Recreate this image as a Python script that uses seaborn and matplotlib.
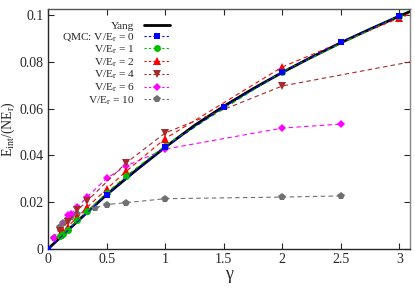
import numpy as np
import pandas as pd
import matplotlib
matplotlib.use("Agg")
import matplotlib.pyplot as plt
import seaborn as sns
from matplotlib.lines import Line2D

# Yang (exact) curve
yang_g = [0, 0.25, 0.5, 0.75, 1.0, 1.25, 1.5, 1.75, 2.0, 2.25, 2.5, 2.75, 3.0, 3.1]
yang_e = [0, 0.0118, 0.0232, 0.0336, 0.0435, 0.0528, 0.0610, 0.0685, 0.0755, 0.0820, 0.0882, 0.0940, 0.0996, 0.1017]

# QMC data, one list pair per V/E_r
g_v0 = [0, 0.5, 1.0, 1.5, 2.0, 2.5, 3.0]
e_v0 = [0, 0.0232, 0.0435, 0.0607, 0.0756, 0.0885, 0.0997]

g_v1 = [0.1, 0.125, 0.1667, 0.25, 0.3333, 0.5, 0.6667, 1.0, 2.0, 3.0]
e_v1 = [0.0055, 0.0065, 0.0082, 0.0122, 0.0162, 0.0240, 0.0312, 0.0442, 0.0758, 0.0998]

g_v2 = [0.1, 0.125, 0.1667, 0.25, 0.3333, 0.5, 0.6667, 1.0, 2.0, 3.0, 4.0]
e_v2 = [0.0060, 0.0075, 0.0095, 0.0135, 0.0178, 0.0256, 0.0332, 0.0472, 0.0778, 0.0988, 0.1160]

g_v4 = [0.1, 0.1667, 0.25, 0.3333, 0.6667, 1.0, 2.0, 4.0]
e_v4 = [0.0075, 0.0115, 0.0165, 0.0205, 0.0368, 0.0496, 0.0697, 0.0885]

g_v6 = [0.05, 0.1667, 0.2, 0.25, 0.3333, 0.5, 0.6667, 1.0, 2.0, 2.5]
e_v6 = [0.0045, 0.0145, 0.0150, 0.0178, 0.0222, 0.0302, 0.0355, 0.0427, 0.0517, 0.0534]

g_v10 = [0.05, 0.1, 0.125, 0.1667, 0.2, 0.25, 0.3333, 0.4, 0.5, 0.6667, 1.0, 2.0, 2.5]
e_v10 = [0.0047, 0.0094, 0.0110, 0.0128, 0.0135, 0.0150, 0.0160, 0.0175, 0.0190, 0.0198, 0.0215, 0.0222, 0.0227]

labels = ["QMC: V/E$_{\\rm r}$ = 0", "V/E$_{\\rm r}$ = 1", "V/E$_{\\rm r}$ = 2",
          "V/E$_{\\rm r}$ = 4", "V/E$_{\\rm r}$ = 6", "V/E$_{\\rm r}$ = 10"]
colors = ["#0000ff", "#00c000", "#ff0000", "#a52a2a", "#ff00ff", "#707070"]
markers = ["s", "o", "^", "v", "D", "p"]
sizes = [5, 5, 5.5, 5.5, 4.5, 5.5]
series = [(g_v0, e_v0), (g_v1, e_v1), (g_v2, e_v2), (g_v4, e_v4), (g_v6, e_v6), (g_v10, e_v10)]

sns.set_style("ticks")
plt.rcParams["font.family"] = ["Liberation Serif", "DejaVu Serif"]
plt.rcParams["mathtext.fontset"] = "custom"
plt.rcParams["mathtext.rm"] = "Liberation Serif"
plt.rcParams["mathtext.it"] = "Liberation Serif:italic"

fig = plt.figure(figsize=(4.15, 2.91), dpi=100)
ax = fig.add_axes([48 / 415, 1 - 249 / 291, 362 / 415, 240 / 291])

sns.lineplot(x=yang_g, y=yang_e, ax=ax, color="black", lw=2,
             sort=False, estimator=None, zorder=3)

# draw QMC series back to front so blue ends up on top
for i in [5, 4, 3, 2, 1, 0]:
    g, e = series[i]
    df = pd.DataFrame({"g": g, "e": e})
    sns.lineplot(data=df, x="g", y="e", ax=ax, color=colors[i], lw=0.8,
                 linestyle=(0, (4, 3)), marker=markers[i], markersize=sizes[i],
                 markeredgewidth=0, sort=False, estimator=None,
                 zorder=4 + (5 - i))

ax.set_xlim(0, 3.09)
ax.set_ylim(0, 0.1026)
ax.set_xticks([0, 0.5, 1, 1.5, 2, 2.5, 3])
ax.set_xticklabels(["0", "0.5", "1", "1.5", "2", "2.5", "3"])
ax.set_yticks([0, 0.02, 0.04, 0.06, 0.08, 0.1])
ax.set_yticklabels(["0", "0.02", "0.04", "0.06", "0.08", "0.1"])
ax.tick_params(direction="in", top=True, right=True, labelsize=10, length=4, width=0.8, pad=3)
for s in ax.spines.values():
    s.set_linewidth(1.0)
ax.spines["top"].set_color("#555555")
ax.spines["right"].set_color("#888888")

ax.set_xlabel("γ", fontsize=13, labelpad=0)
ax.set_ylabel("E$_{\\rm int}$/(NE$_{\\rm r}$)", fontsize=10, labelpad=2)

# legend: Yang first, then QMC in V order
hs = [Line2D([], [], color="black", lw=2)]
for i in range(6):
    hs.append(Line2D([], [], color=colors[i], lw=0.8, linestyle=(0, (2, 2)),
                     marker=markers[i], markersize=sizes[i], markeredgewidth=0))
leg = ax.legend(hs, ["Yang"] + labels, loc="upper right", bbox_to_anchor=(170 / 415, 1 - 21 / 291),
                bbox_transform=fig.transFigure, frameon=False, markerfirst=False,
                fontsize=8.2, handlelength=2.3, handletextpad=0.8, labelspacing=0.02,
                borderpad=0, borderaxespad=0)

fig.savefig("out.png", dpi=100)
